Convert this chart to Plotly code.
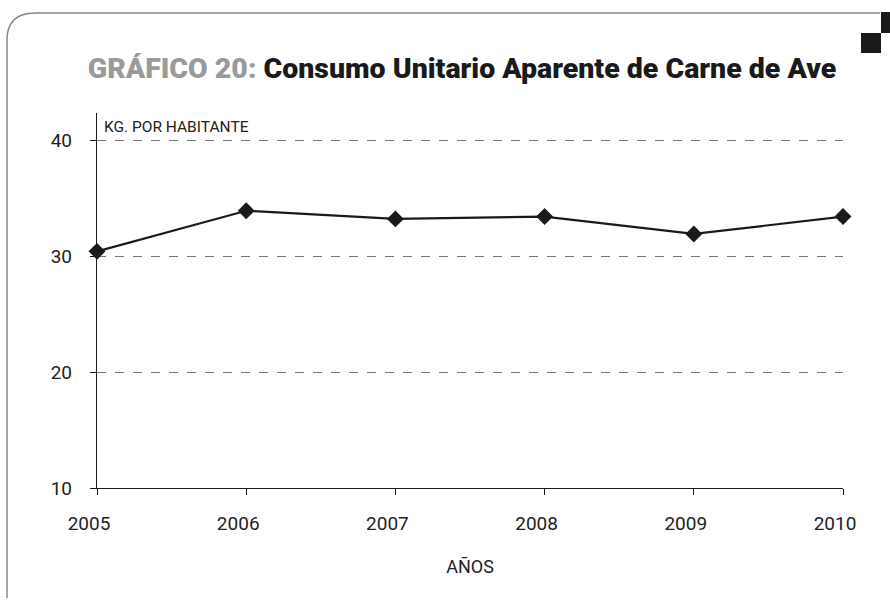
import plotly.graph_objects as go

years = [2005, 2006, 2007, 2008, 2009, 2010]
consumo = [30.4, 33.9, 33.2, 33.4, 31.9, 33.4]
y_ticks = [10, 20, 30, 40]

FONT = "Roboto, sans-serif"

# plot area geometry in pixels
L, R, T, B = 97, 843, 113, 488
W, H = 890, 604

def px(x):
    return (x - L) / (R - L)

def py(y):
    return (B - y) / (B - T)

fig = go.Figure()
fig.add_trace(go.Scatter(
    x=years, y=consumo, mode="lines+markers",
    line=dict(color="#1a1a1a", width=2.2),
    marker=dict(symbol="diamond", size=13, color="#1a1a1a"),
    cliponaxis=False, showlegend=False,
))

frame_path = (f"M {px(7)},{py(598)} L {px(7)},{py(40)} "
              f"Q {px(7)},{py(13)} {px(35)},{py(13)} L {px(880)},{py(13)}")

shapes = [
    dict(type="path", xref="paper", yref="paper", path=frame_path,
         line=dict(color="#8a8a8a", width=1.5), layer="below"),
    dict(type="rect", xref="paper", yref="paper",
         x0=px(861), x1=px(881), y0=py(33), y1=py(53),
         fillcolor="#1a1a1a", line=dict(width=0)),
    dict(type="rect", xref="paper", yref="paper",
         x0=px(881), x1=px(891), y0=py(12), y1=py(33),
         fillcolor="#1a1a1a", line=dict(width=0)),
]

fig.update_layout(
    width=W, height=H,
    margin=dict(l=L, r=W - R, t=T, b=H - B),
    paper_bgcolor="white", plot_bgcolor="white",
    font=dict(family=FONT, color="#222222"),
    title=dict(
        text="<span style='color:#9a9a9a'>GRÁFICO 20:</span> Consumo Unitario Aparente de Carne de Ave",
        x=462 / W, xanchor="center", y=1 - 68 / H, yanchor="middle",
        font=dict(family=FONT, size=28.5, color="#1a1a1a", weight=900),
    ),
    xaxis=dict(
        range=[2005, 2010], tickvals=years, ticktext=[str(y) for y in years],
        showgrid=False, zeroline=False, showline=True, linecolor="#1a1a1a", linewidth=1.3,
        ticks="outside", ticklen=6, tickcolor="#1a1a1a", tickwidth=1.3,
        ticklabelstandoff=12, ticklabelshift=-8,
        tickfont=dict(size=19, family=FONT, color="#222222"),
        title=dict(text="AÑOS", font=dict(size=18, family=FONT, color="#222222"), standoff=26),
    ),
    yaxis=dict(
        range=[10, 10 + (B - T) / 11.6], tickvals=y_ticks,
        showgrid=True, gridcolor="#777777", griddash="dash", gridwidth=1,
        zeroline=False, showline=True, linecolor="#1a1a1a", linewidth=1.3,
        ticks="outside", ticklen=6, tickcolor="#1a1a1a", tickwidth=1.3,
        ticklabelstandoff=14,
        tickfont=dict(size=19, family=FONT, color="#222222"),
    ),
    shapes=shapes,
    annotations=[dict(
        text="KG. POR HABITANTE", xref="paper", yref="paper",
        x=px(102), y=py(127), xanchor="left", yanchor="middle", showarrow=False,
        font=dict(size=15.5, family=FONT, color="#222222"),
    )],
)

fig.write_html("out.html", config={"displayModeBar": False},
               post_script="document.body.style.margin='0';document.body.style.overflow='hidden';")
